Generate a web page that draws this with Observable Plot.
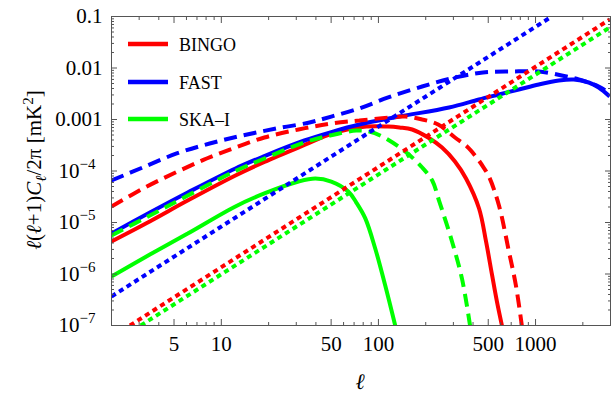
<!DOCTYPE html>
<html><head><meta charset="utf-8">
<script src="https://cdn.jsdelivr.net/npm/d3@7"></script>
<script src="https://cdn.jsdelivr.net/npm/@observablehq/plot@0.6"></script>
<style>body{margin:0;background:#fff}#chart{width:611px;height:394px}</style>
</head><body><div id="chart"></div>
<script>
// ---- series identity ----
const seriesNames = ["BINGO", "FAST", "SKA–I"];
const seriesColors = ["#ff0000", "#0000ff", "#00ff00"];

// ---- BINGO ----
const bingoSolidEll = [2, 3.5, 6.1, 12.3, 18.8, 33.8, 50.9, 83.7, 115, 136, 164, 207, 254, 307, 361, 437, 484, 528, 568, 611];
const bingoSolidCl  = [4.3e-6, 1.05e-5, 2.67e-5, 8.2e-5, 1.5e-4, 3.2e-4, 5.35e-4, 7.3e-4, 7.3e-4, 7.0e-4, 6.4e-4, 4.47e-4, 2.86e-4, 1.53e-4, 7.15e-5, 1.87e-5, 4.28e-6, 9.8e-7, 2.9e-7, 1e-7];
const bingoDashEll  = [2, 3.36, 5.28, 8.07, 12.3, 18.8, 31, 50.1, 75.5, 115.4, 148, 190, 240, 307, 366, 412, 463, 505, 585, 677, 750, 818];
const bingoDashCl   = [2.05e-5, 5.0e-5, 9.78e-5, 1.75e-4, 2.86e-4, 4.47e-4, 6.4e-4, 8.36e-4, 9.56e-4, 1.09e-3, 1.14e-3, 1.0e-3, 8.0e-4, 4.47e-4, 2.99e-4, 2.0e-4, 1.22e-4, 7.82e-5, 2.14e-5, 2.73e-6, 5.98e-7, 1e-7];
const bingoDotEll   = [2.62, 87.4, 2963];
const bingoDotCl    = [1e-7, 9.2e-5, 0.0874];

// ---- FAST ----
const fastSolidEll = [2, 3.51, 6.11, 12.3, 18.8, 33.8, 50.1, 75.5, 135.5, 281.5, 436.5, 585, 783, 1049, 1406, 1750, 2180, 2523, 2963];
const fastSolidCl  = [6.1e-6, 1.56e-5, 3.82e-5, 1.12e-4, 1.95e-4, 3.91e-4, 5.7e-4, 8.0e-4, 1.14e-3, 1.71e-3, 2.45e-3, 3.06e-3, 3.82e-3, 4.78e-3, 5.72e-3, 5.98e-3, 5.23e-3, 4.18e-3, 2.8e-3];
const fastDashEll  = [2, 3.16, 5.2, 8.43, 13.65, 22.4, 36.4, 50.1, 75.5, 115.4, 189.7, 307, 463, 707, 1049, 1469, 1883, 2523, 2963];
const fastDashCl   = [6.54e-5, 1.17e-4, 2.19e-4, 3.42e-4, 4.89e-4, 6.69e-4, 8.74e-4, 1.14e-3, 1.64e-3, 2.68e-3, 4.37e-3, 6.54e-3, 8.18e-3, 8.55e-3, 8.55e-3, 7.15e-3, 5.98e-3, 4.37e-3, 3.2e-3];
const fastDotEll   = [2, 50.1, 1269];
const fastDotCl    = [3.66e-7, 1.91e-4, 0.1];

// ---- SKA-I ----
const skaSolidEll = [2, 3.51, 6.11, 12.3, 18.8, 31, 39.7, 50.1, 64.3, 72.3, 82.5, 95.4, 110.5, 127.9];
const skaSolidCl  = [8.9e-7, 2.39e-6, 6.1e-6, 2.05e-5, 3.66e-5, 6.25e-5, 7.15e-5, 6.25e-5, 4.0e-5, 2.44e-5, 1.2e-5, 3.13e-6, 5.98e-7, 1e-7];
const skaDashEll  = [2, 3.51, 6.11, 12.3, 18.8, 33.8, 50.9, 72.3, 87.4, 105.7, 148, 190, 220, 243, 294, 340, 383];
const skaDashCl   = [5.6e-6, 1.37e-5, 3.34e-5, 1.0e-4, 1.75e-4, 3.6e-4, 5.0e-4, 6.1e-4, 5.85e-4, 4.68e-4, 2.39e-4, 1.17e-4, 6.54e-5, 2.67e-5, 4.28e-6, 8.2e-7, 1e-7];
const skaDotEll   = [3.07, 87.4, 2963];
const skaDotCl    = [1e-7, 6.6e-5, 0.0612];

// ---- axes ----
const xMajor = [5, 10, 50, 100, 500, 1000];
const xTickLabels = ["5", "10", "50", "100", "500", "1000"];
const xMinor = [2, 3, 4, 6, 7, 8, 9, 20, 30, 40, 60, 70, 80, 90, 200, 300, 400, 600, 700, 800, 900, 2000, 3000];
const yMajor = [1e-7, 1e-6, 1e-5, 1e-4, 1e-3, 1e-2, 1e-1];
const yTickLabels = ["10^−7", "10^−6", "10^−5", "10^−4", "0.001", "0.01", "0.1"];
const yMinorMult = [2, 3, 4, 5, 6, 7, 8, 9];
const yMinor = yMajor.slice(0, -1).flatMap(d => yMinorMult.map(m => m * d));

const rows = (L, C) => L.map((l, i) => ({ell: l, cl: C[i]}));
const solidStyle = {strokeWidth: 4};
const dashStyle = {strokeWidth: 4, strokeDasharray: "13,7"};
const dotStyle = {strokeWidth: 4, strokeDasharray: "5,4"};

const lineDefs = [
  [bingoSolidEll, bingoSolidCl, 0, solidStyle],
  [fastSolidEll, fastSolidCl, 1, solidStyle],
  [skaSolidEll, skaSolidCl, 2, solidStyle],
  [bingoDashEll, bingoDashCl, 0, dashStyle],
  [fastDashEll, fastDashCl, 1, dashStyle],
  [skaDashEll, skaDashCl, 2, dashStyle],
  [bingoDotEll, bingoDotCl, 0, dotStyle],
  [skaDotEll, skaDotCl, 2, dotStyle],
  [fastDotEll, fastDotCl, 1, dotStyle]
];

const frameColor = "#555";
const lineMarks = lineDefs.map(([L, C, s, st]) =>
  Plot.line(rows(L, C), {x: "ell", y: "cl", stroke: seriesColors[s], ...st,
    strokeLinecap: "butt", strokeLinejoin: "miter",
    curve: st === dotStyle ? "linear" : "catmull-rom", clip: true}));

const xLabel = d => xTickLabels[xMajor.indexOf(d)];
const yLabel = d => yTickLabels[yMajor.indexOf(d)];

const svg = Plot.plot({
  width: 611, height: 394,
  marginLeft: 111, marginRight: 1, marginTop: 16, marginBottom: 69,
  x: {type: "log", domain: [2, 3000]},
  y: {type: "log", domain: [1e-7, 0.1]},
  style: {fontFamily: "'Liberation Serif', 'Times New Roman', serif", background: "white", color: "black"},
  marks: [
    ...lineMarks,
    Plot.frame({stroke: frameColor, strokeWidth: 1}),
    Plot.axisX(xMajor, {anchor: "bottom", tickSize: -6, fill: "none", stroke: frameColor}),
    Plot.axisX(xMinor, {anchor: "bottom", tickSize: -3, fill: "none", stroke: frameColor}),
    Plot.axisX(xMajor, {anchor: "top", tickSize: -6, fill: "none", stroke: frameColor}),
    Plot.axisX(xMinor, {anchor: "top", tickSize: -3, fill: "none", stroke: frameColor}),
    Plot.axisY(yMajor, {anchor: "left", tickSize: -6, fill: "none", stroke: frameColor}),
    Plot.axisY(yMinor, {anchor: "left", tickSize: -3, fill: "none", stroke: frameColor}),
    Plot.axisY(yMajor, {anchor: "right", tickSize: -6, fill: "none", stroke: frameColor}),
    Plot.axisY(yMinor, {anchor: "right", tickSize: -3, fill: "none", stroke: frameColor}),
    Plot.text(xMajor, {x: d => d, frameAnchor: "bottom", lineAnchor: "top", dy: 11, text: xLabel, fontSize: 21}),
    Plot.text(yMajor.slice(4), {y: d => d, frameAnchor: "left", textAnchor: "end", dx: -9, text: yLabel, fontSize: 21}),
    Plot.text(yMajor.slice(0, 4), {y: d => d, frameAnchor: "left", textAnchor: "end", dx: -16, text: yLabel, fontSize: 21})
  ]
});

const sel = d3.select(svg);
// superscripts on power-of-ten tick labels
sel.selectAll("text").each(function () {
  const m = /^10\^(.+)$/.exec(this.textContent);
  if (m) {
    this.textContent = "10";
    d3.select(this).append("tspan").attr("dy", -9).attr("font-size", 15).text(m[1]);
  }
});

// y-axis title
const yt = sel.append("text")
  .attr("transform", "translate(41,170) rotate(-90)")
  .attr("text-anchor", "middle").attr("font-size", 21).attr("fill", "black");
const parts = [["ℓ", true, 0, 21], ["(", false, 0, 21], ["ℓ", true, 0, 21], ["+1)", false, 0, 21],
  ["C", true, 0, 21], ["ℓ", true, 5, 15], ["/2π [mK", false, -5, 21], ["2", false, -8, 15], ["]", false, 8, 21]];
for (const [t, it, dy, fs] of parts) {
  yt.append("tspan").attr("font-style", it ? "italic" : "normal").attr("dy", dy).attr("font-size", fs).text(t);
}

// x-axis title
sel.append("text").attr("x", 360).attr("y", 389).attr("text-anchor", "middle")
  .attr("font-size", 22).attr("font-style", "italic").text("ℓ");

// legend
const lg = sel.append("g").attr("text-anchor", "start");
const legendY = [44, 82, 119];
seriesNames.forEach((name, i) => {
  lg.append("line").attr("x1", 128).attr("x2", 168).attr("y1", legendY[i]).attr("y2", legendY[i])
    .attr("stroke", seriesColors[i]).attr("stroke-width", 4.5);
  lg.append("text").attr("x", 179).attr("y", legendY[i] + 7).attr("font-size", 18)
    .attr("text-anchor", "start").text(name);
});

document.getElementById("chart").appendChild(svg);
</script>
</body></html>
